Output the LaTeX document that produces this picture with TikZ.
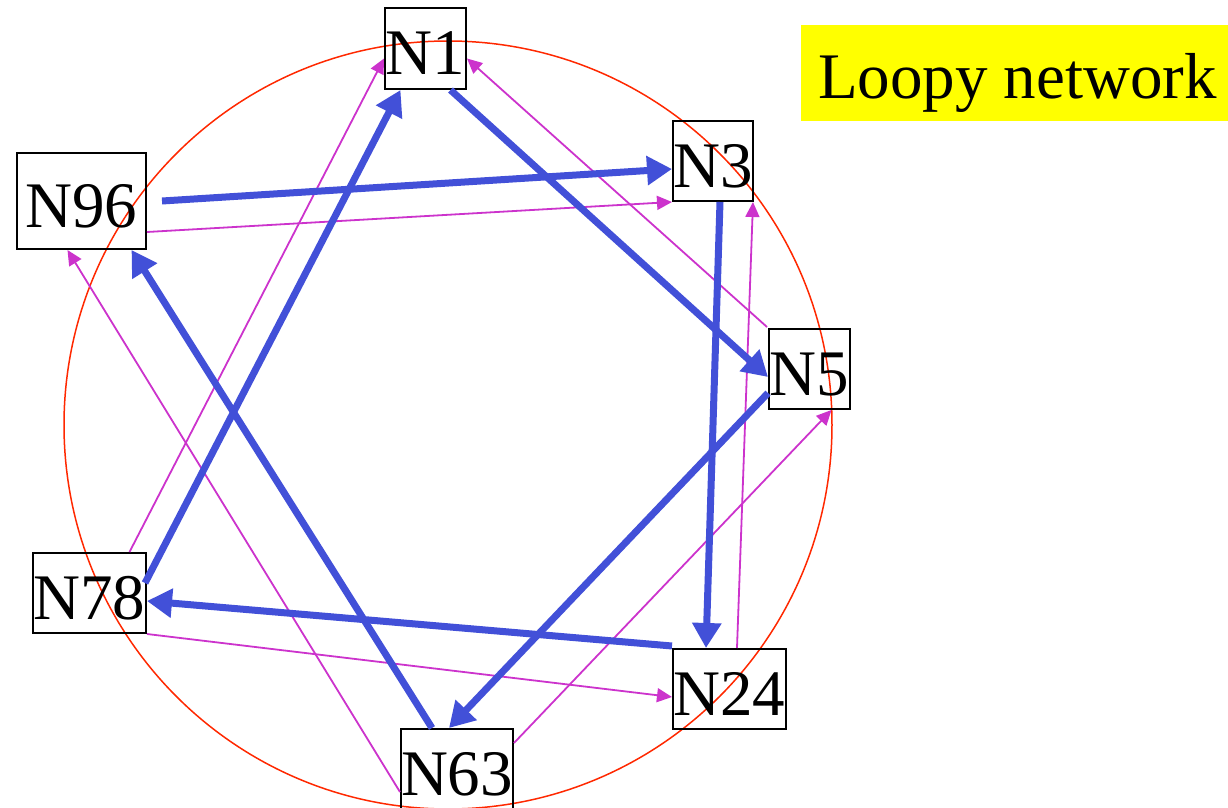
\documentclass[tikz,border=0pt]{standalone}
\usepackage{fontspec}
\setmainfont{Liberation Serif}
\usetikzlibrary{arrows.meta, positioning, calc}
\definecolor{myblue}{RGB}{66,80,216}
\definecolor{mypink}{RGB}{204,51,204}
\definecolor{myred}{RGB}{255,40,0}
\definecolor{myyellow}{RGB}{255,255,0}
\tikzset{
  netbox/.style={rectangle, draw=black, line width=1pt, inner sep=0pt,
    minimum height=40pt, text height=26.5pt, text depth=0pt,
    font=\fontsize{32.5}{39}\selectfont},
  titlebox/.style={rectangle, fill=myyellow, inner sep=0pt,
    minimum width=213.5pt, minimum height=48pt, text height=26pt, text depth=0pt,
    font=\fontsize{32.5}{39}\selectfont},
  ring/.style={line width=0.75pt, color=myred},
  bluearrow/.style={-{Triangle[length=12.5pt, width=14pt]}, line width=3.5pt, color=myblue},
  pinkarrow/.style={-{Triangle[length=7.5pt, width=7pt]}, line width=0.9pt, color=mypink}
}

\begin{document}
\begin{tikzpicture}[x=0.5pt, y=-0.5pt]
  \useasboundingbox (0,0) rectangle (1228,808);

  % Draw ring
  \coordinate (hub) at (448,425);
  \draw[ring] (hub) circle [radius=192pt];

  % Nodes
  \node[netbox, minimum width=40.5pt, minimum height=40.5pt] (N1) at (425.5,48.5) {N1};
  \node[netbox, minimum width=40pt] (N3) at (713,161) {N3};
  \node[netbox, minimum width=64.5pt, minimum height=48pt] (N96) at (81.5,201) {N96};
  \node[netbox, minimum width=40.5pt] (N5) at (809.5,369) {N5};
  \node[netbox, minimum width=56.5pt] (N78) at (89.5,593) {N78};
  \node[netbox, minimum width=56.5pt] (N24) at (729.5,689) {N24};
  \node[netbox, minimum width=56pt] (N63) at (457,769) {N63};
  \node[titlebox] (title) at (1014.5,73) {\hspace{3pt}Loopy network};

  % Thin links
  \draw[pinkarrow] ([shift={(-1,-1)}]N5.north west) -- ([shift={(0,10)}]N1.east);
  \draw[pinkarrow] ([shift={(40,0)}]N78.north) -- ([shift={(0,10)}]N1.west);
  \draw[pinkarrow] ([shift={(0,31)}]N96.east) -- (N3.south west);
  \draw[pinkarrow] ([shift={(7.5,0)}]N24.north) -- ([shift={(-1,0)}]N3.south east);
  \draw[pinkarrow] ([shift={(0,23)}]N63.west) -- ([shift={(-14,0)}]N96.south);
  \draw[pinkarrow] ([shift={(0,-26)}]N63.east) -- ([shift={(22,0)}]N5.south);
  \draw[pinkarrow] (N78.south east) -- ([shift={(0,8)}]N24.west);

  % Thick links
  \draw[bluearrow] ([shift={(15,0)}]N96.east) -- ([shift={(0,8)}]N3.west);
  \draw[bluearrow] ([shift={(25,0)}]N1.south) -- ([shift={(0,8)}]N5.west);
  \draw[bluearrow] ([shift={(7,0)}]N3.south) -- ([shift={(-23.5,0)}]N24.north);
  \draw[bluearrow] ([shift={(0,24)}]N5.west) -- ([shift={(-8,0)}]N63.north);
  \draw[bluearrow] ([shift={(0,-2)}]N24.north west) -- ([shift={(0,8)}]N78.east);
  \draw[bluearrow] ([shift={(-25,0)}]N63.north) -- ([shift={(50,0)}]N96.south);
  \draw[bluearrow] ([shift={(-2,-10)}]N78.east) -- ([shift={(-25,0)}]N1.south);
\end{tikzpicture}
\end{document}
